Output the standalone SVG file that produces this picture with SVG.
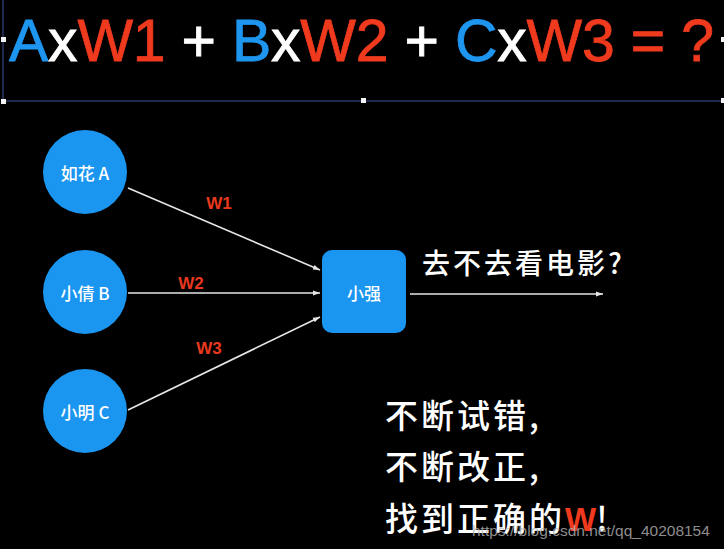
<svg xmlns="http://www.w3.org/2000/svg" width="724" height="549" viewBox="0 0 724 549">
<style>
.bg{fill:#000}
.node{fill:#1A95F0}
.lbl{font-family:"Noto Sans CJK SC","Liberation Sans",sans-serif;font-size:17px;font-weight:500;fill:#fff;text-anchor:middle;dominant-baseline:central}
.conn{stroke:#e6e6e6;stroke-width:1.6;fill:none;marker-end:url(#ah)}
.w{font-family:"Liberation Sans",Arial,sans-serif;font-weight:bold;font-size:17px;fill:#E8391E;text-anchor:middle}
.big{font-family:"Noto Sans CJK SC",sans-serif;font-weight:500;fill:#fff}
.eq{font-family:"Liberation Sans",Arial,sans-serif;font-size:59px;stroke-width:0.8}
.blue{fill:#1E96F0;stroke:#1E96F0}.red{fill:#F03A1E;stroke:#F03A1E}.white{fill:#fff;stroke:#fff}
.frame{stroke:#2b3766;stroke-width:1.5;fill:none}
.hd{fill:#f4f4f4}
</style>
<defs>
<marker id="ah" viewBox="0 0 10 10" refX="10" refY="5" markerWidth="7" markerHeight="7" orient="auto" markerUnits="userSpaceOnUse">
<path d="M0,1.5 L10,5 L0,8.5 Z" fill="#e6e6e6"/>
</marker>
</defs>
<rect class="bg" x="0" y="0" width="724" height="549"/>
<g id="frame">
<line class="frame" x1="3" y1="0" x2="3" y2="101"/>
<line class="frame" x1="3" y1="101" x2="724" y2="101"/>
<rect class="hd" x="1" y="37" width="5" height="5"/>
<rect class="hd" x="1" y="99" width="5" height="5"/>
<rect class="hd" x="361" y="98" width="5" height="5"/>
<rect class="hd" x="721" y="37" width="4" height="5"/>
<rect class="hd" x="721" y="98" width="4" height="5"/>
</g>
<g id="equation">
<text class="eq" x="9" y="61" textLength="705" lengthAdjust="spacing"><tspan class="blue">A</tspan><tspan class="white">x</tspan><tspan class="red">W1</tspan><tspan class="white"> + </tspan><tspan class="blue">B</tspan><tspan class="white">x</tspan><tspan class="red">W2</tspan><tspan class="white"> + </tspan><tspan class="blue">C</tspan><tspan class="white">x</tspan><tspan class="red">W3 = ?</tspan></text>
</g>
<g id="connectors">
<line class="conn" x1="128" y1="188" x2="320" y2="270"/>
<line class="conn" x1="128" y1="293" x2="320" y2="293"/>
<line class="conn" x1="128" y1="410" x2="320" y2="317"/>
<line class="conn" x1="410" y1="294" x2="603" y2="294"/>
<text class="w" x="219" y="209">W1</text>
<text class="w" x="191" y="289">W2</text>
<text class="w" x="209" y="354">W3</text>
</g>
<g id="nodeA"><circle class="node" cx="85" cy="172" r="42"/><text class="lbl" x="85" y="172">如花 A</text></g>
<g id="nodeB"><circle class="node" cx="85" cy="292" r="42"/><text class="lbl" x="85" y="292">小倩 B</text></g>
<g id="nodeC"><circle class="node" cx="85" cy="411" r="42"/><text class="lbl" x="85" y="411">小明 C</text></g>
<g id="nodeQ"><rect class="node" x="322" y="250" width="84" height="83" rx="10"/><text class="lbl" x="364" y="292">小强</text></g>
<g id="question"><text class="big" x="422" y="274" font-size="28" letter-spacing="3">去不去看电影?</text></g>
<g id="notes">
<text class="big" x="385" y="428" font-size="33" letter-spacing="3">不断试错,</text>
<text class="big" x="385" y="479" font-size="33" letter-spacing="3">不断改正,</text>
<text class="big" x="385" y="531" font-size="33" letter-spacing="3">找到正确的<tspan fill="#F03A1E" font-family="Liberation Sans,sans-serif" font-weight="bold" letter-spacing="0">W</tspan>!</text>
</g>
<g id="watermark"><text x="472" y="536" font-family="Liberation Sans,Arial,sans-serif" font-size="15.5" fill="#b4b4b4" fill-opacity="0.8">https://blog.csdn.net/qq_40208154</text></g>
</svg>
